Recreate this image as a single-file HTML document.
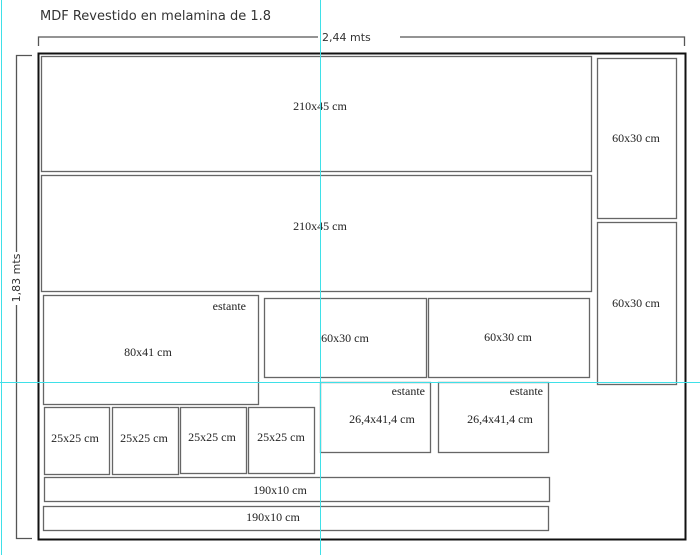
<!DOCTYPE html>
<html><head><meta charset="utf-8"><style>
html,body{margin:0;padding:0;background:#fff;}
svg{display:block}
text{font-family:"Liberation Serif",serif;font-size:12px;fill:#222}
</style></head><body>
<svg width="700" height="555" viewBox="0 0 700 555" xmlns="http://www.w3.org/2000/svg">
<text x="40" y="20" style="font-family:'DejaVu Sans',sans-serif;font-size:13px;fill:#333">MDF Revestido en melamina de 1.8</text>
<g stroke="#555" stroke-width="1.3" fill="none">
<polyline points="38.5,46 38.5,37 318,37"/>
<polyline points="400,37 684.5,37 684.5,46"/>
<polyline points="32,55.5 16.5,55.5 16.5,252"/>
<polyline points="16.5,305 16.5,538.5 32,538.5"/>
</g>
<text x="322" y="41" style="font-family:'DejaVu Sans',sans-serif;font-size:11px;fill:#333">2,44 mts</text>
<text transform="translate(20,278) rotate(-90)" text-anchor="middle" style="font-family:'DejaVu Sans',sans-serif;font-size:11px;fill:#333">1,83 mts</text>
<rect x="38.5" y="53.5" width="647" height="486" fill="none" stroke="#111" stroke-width="2"/>
<g fill="none" stroke="#666" stroke-width="1.3">
<rect x="41.5" y="56.5" width="550" height="115"/>
<rect x="41.5" y="175.5" width="550" height="116"/>
<rect x="597.5" y="58.5" width="79" height="160"/>
<rect x="597.5" y="222.5" width="79" height="162"/>
<rect x="43.5" y="295.5" width="215" height="109"/>
<rect x="264.5" y="298.5" width="162" height="79"/>
<rect x="428.5" y="298.5" width="161" height="79"/>
<rect x="44.5" y="407.5" width="65" height="67"/>
<rect x="112.5" y="407.5" width="66" height="67"/>
<rect x="180.5" y="407.5" width="66" height="66"/>
<rect x="248.5" y="407.5" width="66" height="66"/>
<rect x="320.5" y="382.5" width="110" height="70"/>
<rect x="438.5" y="382.5" width="110" height="70"/>
<rect x="44.5" y="477.5" width="505" height="24"/>
<rect x="43.5" y="506.5" width="505" height="24"/>
</g>
<g text-anchor="middle">
<text x="320" y="110">210x45 cm</text>
<text x="320" y="230">210x45 cm</text>
<text x="636" y="142">60x30 cm</text>
<text x="636" y="307">60x30 cm</text>
<text x="148" y="356">80x41 cm</text>
<text x="345" y="342">60x30 cm</text>
<text x="508" y="341">60x30 cm</text>
<text x="75" y="442">25x25 cm</text>
<text x="144" y="442">25x25 cm</text>
<text x="212" y="441">25x25 cm</text>
<text x="281" y="441">25x25 cm</text>
<text x="382" y="423">26,4x41,4 cm</text>
<text x="500" y="423">26,4x41,4 cm</text>
<text x="280" y="494">190x10 cm</text>
<text x="273" y="521">190x10 cm</text>
</g>
<g text-anchor="end">
<text x="246" y="310">estante</text>
<text x="425" y="395">estante</text>
<text x="543" y="395">estante</text>
</g>
<g stroke="#3fe0e8" stroke-width="1">
<line x1="1.5" y1="0" x2="1.5" y2="555"/>
<line x1="320.5" y1="0" x2="320.5" y2="555"/>
<line x1="0" y1="382.5" x2="700" y2="382.5"/>
</g>
</svg>
</body></html>
